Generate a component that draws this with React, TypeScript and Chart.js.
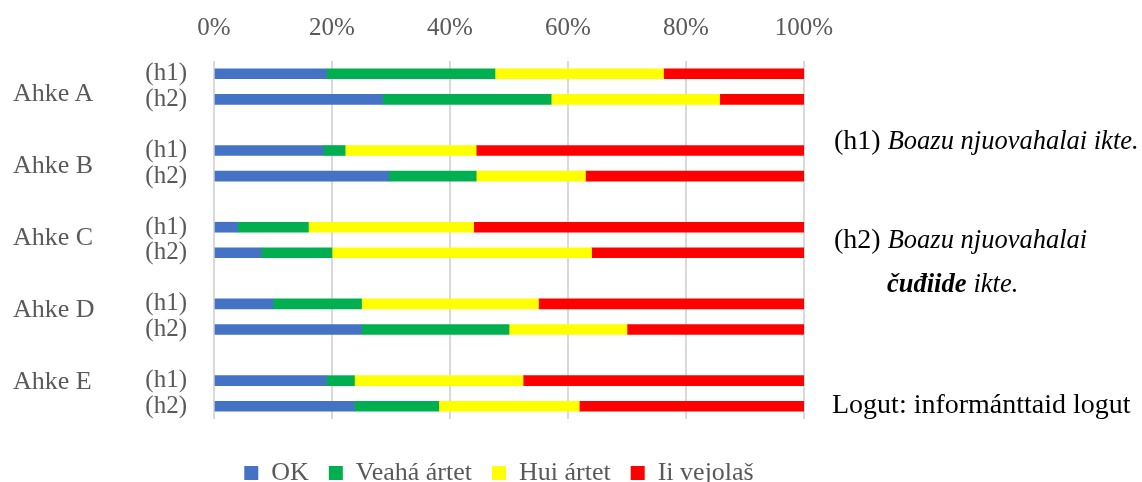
import React, { useEffect, useRef } from 'react';
import { Chart, registerables, layouts } from 'chart.js';

Chart.register(...registerables);

// ---- data ----
const groupNames = ['Ahke A', 'Ahke B', 'Ahke C', 'Ahke D', 'Ahke E'];
const subLabels = ['(h1)', '(h2)'];
const seriesNames = ['OK', 'Veahá ártet', 'Hui ártet', 'Ii vejolaš'];
const seriesColors = ['#4472C4', '#00B050', '#FFFF00', '#FF0000'];
// order: A-h1, A-h2, B-h1, B-h2, C-h1, C-h2, D-h1, D-h2, E-h1, E-h2 (percent)
const okValues = [19.05, 28.57, 18.52, 29.63, 4, 8, 10, 25, 19.05, 23.81];
const veahaValues = [28.57, 28.57, 3.7, 14.81, 12, 12, 15, 25, 4.76, 14.29];
const huiValues = [28.57, 28.57, 22.22, 18.52, 28, 44, 30, 20, 28.57, 23.81];
const iiValues = [23.81, 14.29, 55.56, 37.04, 56, 36, 45, 30, 47.62, 38.1];
const xTickValues = [0, 20, 40, 60, 80, 100];

const FONT = "'Liberation Serif', 'Times New Roman', serif";
const GRAY = '#595959';

// insert an empty slot between groups
function withGaps<T>(vals: T[], gap: T): T[] {
  const out: T[] = [];
  for (let g = 0; g < groupNames.length; g++) {
    if (g > 0) out.push(gap);
    for (let s = 0; s < subLabels.length; s++) out.push(vals[g * subLabels.length + s]);
  }
  return out;
}

const categoryLabels = withGaps(
  groupNames.flatMap(() => subLabels),
  ''
);

const seriesValues = [okValues, veahaValues, huiValues, iiValues];

const W = 1142;
const H = 482;

// empty layout box that keeps space between plot area and legend,
// and a small horizontal nudge of the legend
const layoutTweaks = {
  id: 'layoutTweaks',
  beforeInit(chart: any) {
    const box: any = {
      position: 'bottom',
      weight: -10,
      fullSize: false,
      options: {},
      left: 0,
      top: 0,
      right: 0,
      bottom: 0,
      width: 0,
      height: 0,
      isHorizontal: () => true,
      update(maxWidth: number) {
        this.width = maxWidth;
        this.height = 21;
      },
      draw() {},
    };
    layouts.addBox(chart, box);
  },
  afterLayout(chart: any) {
    if (chart.legend) {
      chart.legend.left -= 10;
      chart.legend.right -= 10;
    }
  },
};

export default function App() {
  const ref = useRef<HTMLCanvasElement | null>(null);

  useEffect(() => {
    if (!ref.current) return;
    const chart = new Chart(ref.current, {
      type: 'bar',
      plugins: [layoutTweaks],
      data: {
        labels: categoryLabels,
        datasets: seriesNames.map((name, i) => ({
          label: name,
          data: withGaps<number | null>(seriesValues[i], null),
          backgroundColor: seriesColors[i],
          borderWidth: 0,
          barThickness: 10,
        })),
      },
      options: {
        indexAxis: 'y',
        responsive: false,
        animation: false,
        layout: { padding: { left: 0, right: W - 804, top: 0, bottom: -14 } },
        plugins: {
          tooltip: { enabled: false },
          legend: {
            position: 'bottom',
            fullSize: false,
            labels: {
              boxWidth: 14,
              boxHeight: 14,
              padding: 20,
              color: GRAY,
              font: { family: FONT, size: 26 },
            },
          },
        },
        scales: {
          x: {
            position: 'top',
            stacked: true,
            min: 0,
            max: 100,
            afterBuildTicks: (s: any) => {
              s.ticks = xTickValues.map((v) => ({ value: v }));
            },
            ticks: {
              callback: (v: any) => v + '%',
              color: GRAY,
              font: { family: FONT, size: 25 },
              padding: 18,
              maxRotation: 0,
              autoSkip: false,
            },
            grid: { color: '#d9d9d9', lineWidth: 2, drawTicks: false },
            border: { display: false },
            afterFit: (s: any) => {
              s.height = 61;
            },
          },
          y: {
            stacked: true,
            ticks: {
              color: GRAY,
              font: { family: FONT, size: 25 },
              padding: 27,
              autoSkip: false,
            },
            grid: { display: false, drawTicks: false },
            border: { display: false },
            afterFit: (s: any) => {
              s.width = 214;
            },
          },
        },
      } as any,
    });
    return () => chart.destroy();
  }, []);

  const groupTops = [80, 152, 224, 296, 368];
  const annot = {
    position: 'absolute' as const,
    fontSize: 28,
    lineHeight: '28px',
    color: '#000',
    whiteSpace: 'nowrap' as const,
  };
  const ital = { fontStyle: 'italic' as const, fontSize: 26.5 };

  return (
    <div
      style={{
        position: 'fixed',
        left: 0,
        top: 0,
        width: W,
        height: H,
        background: '#fff',
        overflow: 'hidden',
        fontFamily: FONT,
      }}
    >
      <canvas ref={ref} width={W} height={H} style={{ position: 'absolute', left: 0, top: 0, display: 'block' }} />
      {groupNames.map((g, i) => (
        <div
          key={g}
          style={{
            position: 'absolute',
            left: 13,
            top: groupTops[i],
            fontSize: 26,
            lineHeight: '26px',
            color: GRAY,
            whiteSpace: 'nowrap',
          }}
        >
          {g}
        </div>
      ))}
      <div style={{ ...annot, left: 834, top: 126 }}>
        (h1) <span style={ital}>Boazu njuovahalai ikte.</span>
      </div>
      <div style={{ ...annot, left: 834, top: 225 }}>
        (h2) <span style={ital}>Boazu njuovahalai</span>
      </div>
      <div style={{ ...annot, left: 887, top: 269 }}>
        <span style={{ ...ital, fontWeight: 'bold' }}>čuđiide</span> <span style={ital}>ikte.</span>
      </div>
      <div style={{ ...annot, left: 832, top: 390 }}>
        Logut: informánttaid logut
      </div>
    </div>
  );
}
